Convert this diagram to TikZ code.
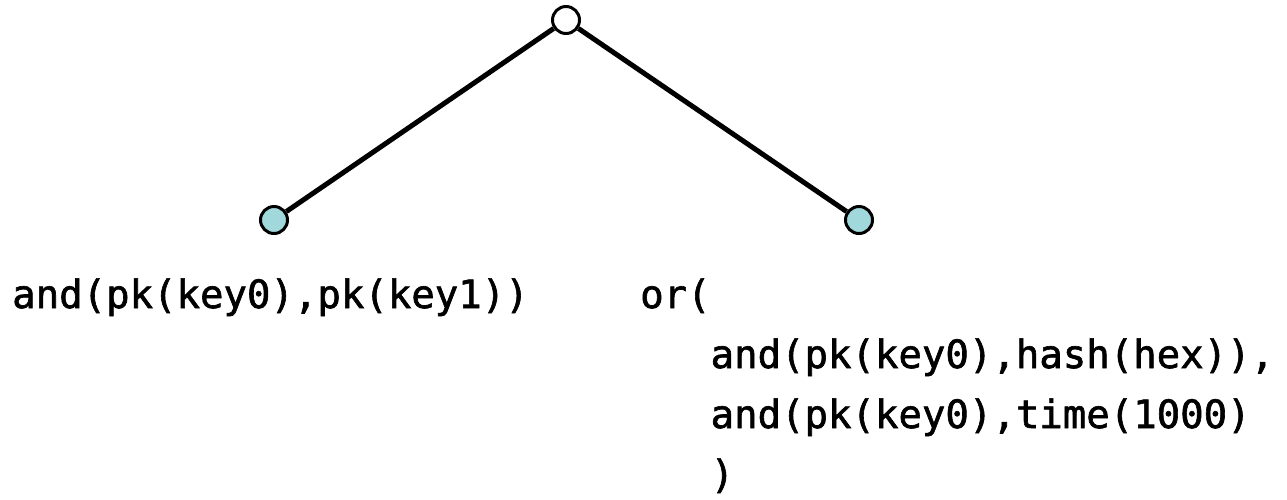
\documentclass[tikz,border=0pt]{standalone}
\usepackage{fontspec}
\usetikzlibrary{positioning}

\newfontfamily\codefont{DejaVu Sans Mono}[FakeBold=1.6]
\definecolor{leafblue}{HTML}{A0D8DC}

\begin{document}
\begin{tikzpicture}[x=1pt, y=-1pt,
    rootnode/.style = {circle, draw, line width=3pt, fill=white,
                       minimum size=27pt, inner sep=0pt},
    leafnode/.style = {rootnode, fill=leafblue},
    branch/.style = {line width=5pt},
    code/.style = {font=\codefont\fontsize{39}{60}\selectfont,
                   inner sep=0pt, align=left, anchor=base west}]
  \useasboundingbox (0,0) rectangle (1287,499);

  % tree
  \node[rootnode] (root) at (566,20) {};
  \node[leafnode, on grid, below left=200pt and 292pt of root] (left) {};
  \node[leafnode, on grid, below right=200pt and 293pt of root] (right) {};

  \draw[branch] (root) -- (left);
  \draw[branch] (root) -- (right);

  % policies under the leaves (base = last line)
  \node[code] (leftpolicy) at (12,308) {and(pk(key0),pk(key1))};
  \node[code] (rightpolicy) at (640,488) {or(\\
    \phantom{or(}and(pk(key0),hash(hex)),\\
    \phantom{or(}and(pk(key0),time(1000)\\
    \phantom{or(})};
\end{tikzpicture}
\end{document}
